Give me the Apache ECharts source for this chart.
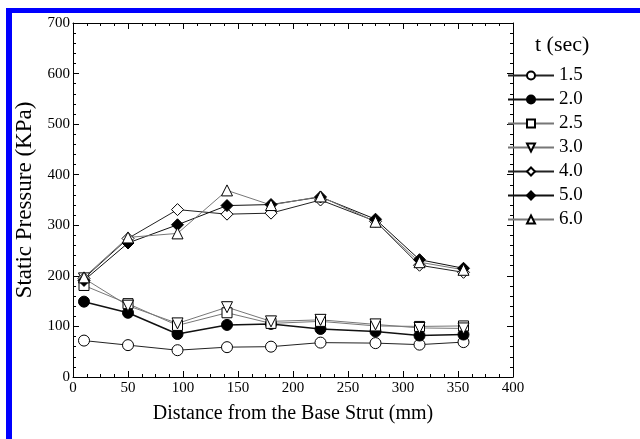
<!DOCTYPE html>
<html>
<head>
<meta charset="utf-8">
<script src="https://cdn.jsdelivr.net/npm/echarts@6/dist/echarts.min.js"></script>
<style>
  html, body { margin: 0; padding: 0; background: #fff; }
  #main { width: 640px; height: 439px; }
</style>
</head>
<body>
<div id="main"></div>
<script>
// distances (mm)
var xs = [10, 50, 95, 140, 180, 225, 275, 315, 355];
// static pressure (KPa) per time t (sec)
var s15 = [72, 63, 53, 59, 60, 68, 67, 64, 69];
var s20 = [149, 127, 85, 103, 105, 95, 90, 82, 84];
var s25 = [181, 145, 102, 127, 106, 110, 101, 100, 101];
var s30 = [195, 141, 106, 138, 110, 113, 104, 97, 96];
var s40 = [195, 274, 331, 322, 324, 350, 308, 221, 207];
var s50 = [191, 265, 301, 339, 341, 356, 312, 232, 215];
var s60 = [197, 276, 284, 369, 340, 357, 307, 227, 212];
var names = ["1.5", "2.0", "2.5", "3.0", "4.0", "5.0", "6.0"];

var chartDom = document.getElementById("main");
var myChart = echarts.init(chartDom);
var font = "Liberation Serif";

function pts(arr) {
    var out = [];
    for (var i = 0; i < xs.length; i++) {
        out.push([xs[i], arr[i]]);
    }
    return out;
}

function mk(name, arr, symbol, filled, lineColor, lineWidth, size, rotate) {
    return {
        name: name,
        type: "line",
        data: pts(arr),
        symbol: symbol,
        symbolSize: size,
        symbolRotate: rotate || 0,
        showAllSymbol: true,
        lineStyle: { color: lineColor, width: lineWidth },
        itemStyle: {
            color: filled ? "#000" : "#fff",
            borderColor: "#000",
            borderWidth: 1
        },
        emphasis: { disabled: true },
        z: 3
    };
}

var axisText = { color: "#000", fontFamily: font, fontSize: 15 };
var tick = { show: true, inside: true, length: 6, lineStyle: { color: "#000" } };
var minor = { show: true, length: 3, lineStyle: { color: "#000" } };
var line = { show: true, onZero: false, lineStyle: { color: "#000", width: 1 } };

var option = {
    backgroundColor: "#fff",
    animation: false,
    title: {
        text: "t (sec)",
        left: 530,
        top: 29,
        textStyle: { fontFamily: font, fontSize: 22, fontWeight: "normal", color: "#000" }
    },
    legend: {
        orient: "vertical",
        left: 507,
        top: 66,
        padding: 0,
        itemWidth: 46,
        itemHeight: 10,
        itemGap: 5,
        data: names,
        textStyle: { fontFamily: font, fontSize: 19, lineHeight: 19, color: "#000" }
    },
    graphic: [
        { type: "rect", shape: { x: 6, y: 8, width: 640, height: 5 }, style: { fill: "#0000ff" } },
        { type: "rect", shape: { x: 6, y: 8, width: 6, height: 440 }, style: { fill: "#0000ff" } }
    ],
    grid: { left: 73, right: 127, top: 23, bottom: 62 },
    xAxis: [
        {
            type: "value",
            min: 0, max: 400, interval: 50,
            name: "Distance from the Base Strut (mm)",
            nameLocation: "middle",
            nameGap: 27,
            nameTextStyle: { fontFamily: font, fontSize: 20, color: "#000" },
            axisLine: line,
            axisTick: tick,
            minorTick: Object.assign({ splitNumber: 4 }, minor),
            axisLabel: Object.assign({ margin: 4 }, axisText),
            splitLine: { show: false }
        },
        {
            type: "value",
            position: "top",
            min: 0, max: 400, interval: 50,
            axisLine: line,
            axisTick: tick,
            minorTick: Object.assign({ splitNumber: 4 }, minor),
            axisLabel: { show: false },
            splitLine: { show: false }
        }
    ],
    yAxis: [
        {
            type: "value",
            min: 0, max: 700, interval: 100,
            name: "Static Pressure (KPa)",
            nameLocation: "middle",
            nameGap: 34,
            nameTextStyle: { fontFamily: font, fontSize: 23, color: "#000" },
            axisLine: line,
            axisTick: tick,
            minorTick: Object.assign({ splitNumber: 5 }, minor),
            axisLabel: Object.assign({ margin: 3 }, axisText),
            splitLine: { show: false }
        },
        {
            type: "value",
            position: "right",
            min: 0, max: 700, interval: 100,
            axisLine: line,
            axisTick: tick,
            minorTick: Object.assign({ splitNumber: 5 }, minor),
            axisLabel: { show: false },
            splitLine: { show: false }
        }
    ],
    series: [
        mk(names[0], s15, "circle", false, "#222", 1, 11),
        mk(names[1], s20, "circle", true, "#111", 1.5, 11),
        mk(names[2], s25, "rect", false, "#777", 1, 10),
        mk(names[3], s30, "triangle", false, "#777", 1, 11, 180),
        mk(names[4], s40, "diamond", false, "#222", 1, 12),
        mk(names[5], s50, "diamond", true, "#111", 1, 12),
        mk(names[6], s60, "triangle", false, "#777", 1, 11)
    ]
};

option && myChart.setOption(option);
</script>
</body>
</html>
